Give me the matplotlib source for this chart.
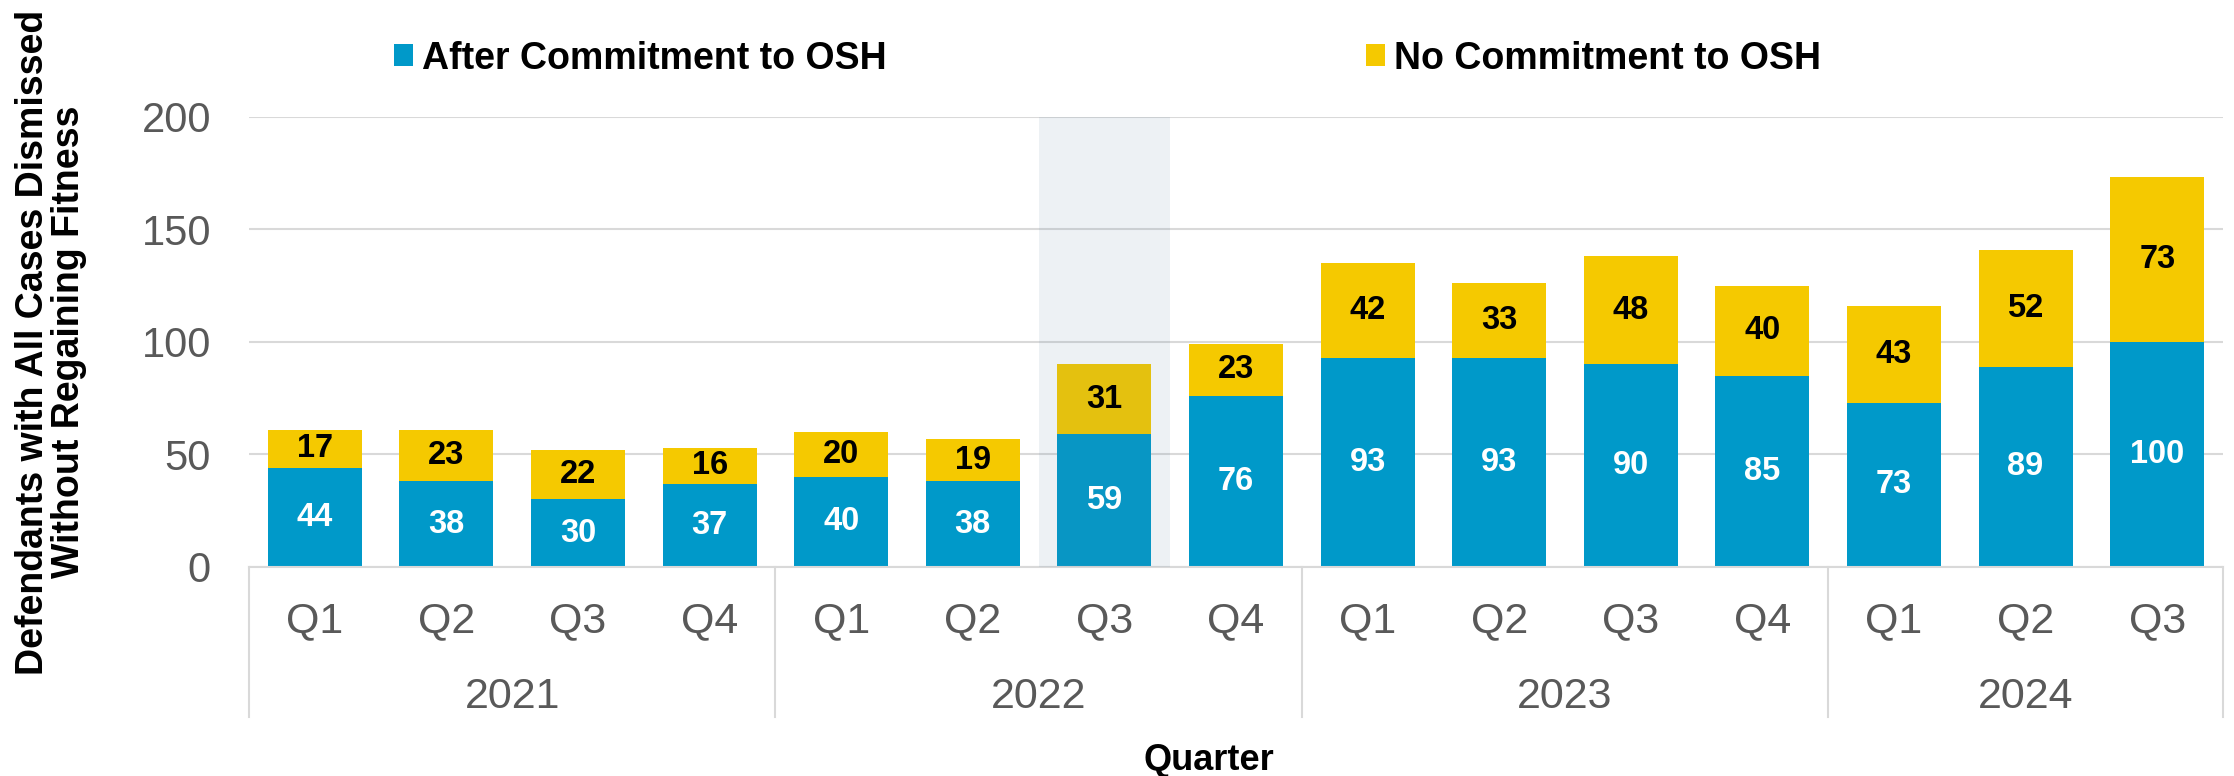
import matplotlib
matplotlib.use("Agg")
import matplotlib.pyplot as plt
import matplotlib.transforms as mtransforms
from matplotlib.patches import Rectangle
from matplotlib import font_manager

# ---- data ----
years = ["2021", "2022", "2023", "2024"]
quarters = ["Q1", "Q2", "Q3", "Q4", "Q1", "Q2", "Q3", "Q4",
            "Q1", "Q2", "Q3", "Q4", "Q1", "Q2", "Q3"]
quarters_per_year = [4, 4, 4, 3]
after_commitment = [44, 38, 30, 37, 40, 38, 59, 76, 93, 93, 90, 85, 73, 89, 100]
no_commitment = [17, 23, 22, 16, 20, 19, 31, 23, 42, 33, 48, 40, 43, 52, 73]
series_names = ["After Commitment to OSH", "No Commitment to OSH"]
highlight_index = 6

BLUE = "#0099C9"
YELLOW = "#F5C900"
GRID = "#D9D9D9"
TICK = "#595959"

names = {f.name for f in font_manager.fontManager.ttflist}
BASE = "Liberation Sans" if "Liberation Sans" in names else "DejaVu Sans"
plt.rcParams["font.family"] = [BASE, "DejaVu Sans"]
if "Liberation Sans Narrow" in names:
    LEG_FAMILY, LEG_SIZE = ["Liberation Sans Narrow", BASE], 31
else:
    LEG_FAMILY, LEG_SIZE = [BASE], 27

W, H = 2234, 776
fig = plt.figure(figsize=(W / 100, H / 100), dpi=100)
ax_left, ax_right, ax_bottom, ax_top = 249, 2223, 567, 116.7
ax = fig.add_axes([ax_left / W, 1 - ax_bottom / H,
                   (ax_right - ax_left) / W, (ax_bottom - ax_top) / H])

x = list(range(len(quarters)))
bw = 0.714
ax.bar(x, after_commitment, width=bw, color=BLUE, zorder=2)
ax.bar(x, no_commitment, width=bw, bottom=after_commitment, color=YELLOW, zorder=2)

# highlight band overlay
ax.axvspan(highlight_index - 0.5, highlight_index + 0.5, color=(85/255, 125/255, 155/255),
           alpha=0.1, zorder=3, lw=0)

# data labels
for i in x:
    a = after_commitment[i]
    n = no_commitment[i]
    ax.text(i, a / 2, str(a), ha="center", va="center", color="white",
            fontsize=23.5, fontweight="bold", zorder=5)
    ax.text(i, a + n / 2, str(n), ha="center", va="center", color="black",
            fontsize=23.5, fontweight="bold", zorder=5)

ax.set_xlim(-0.5, len(quarters) - 0.5)
ax.set_ylim(0, 200)
ax.set_yticks([0, 50, 100, 150, 200])
ax.yaxis.grid(True, color=GRID, lw=1.5, zorder=0)
ax.set_axisbelow(True)
for s in ["left", "right", "top"]:
    ax.spines[s].set_visible(False)
ax.spines["bottom"].set_color(GRID)
ax.spines["bottom"].set_linewidth(1.5)
ax.tick_params(axis="y", length=0, labelsize=30, labelcolor=TICK, pad=27.4)

ax.set_xticks(x)
ax.set_xticklabels(quarters)
ax.tick_params(axis="x", length=0, labelsize=31, labelcolor=TICK, pad=47.3)
for lbl in ax.get_xticklabels():
    lbl.set_verticalalignment("baseline")

# year labels and separators
trans = mtransforms.blended_transform_factory(ax.transData, fig.transFigure)
start = -0.5
bounds = [start]
for yr, n in zip(years, quarters_per_year):
    mid = start + n / 2
    ax.text(mid, 1 - 708 / H, yr, transform=trans, ha="center", va="baseline",
            fontsize=31, color=TICK)
    start += n
    bounds.append(start)
for b in bounds:
    ax.plot([b, b], [1 - 567 / H, 1 - 717 / H], transform=trans, color=GRID,
            lw=1.5, clip_on=False, zorder=1)

# axis titles
fig.text(1208.7 / W, 1 - 760 / H, "Quarter", ha="center", va="center",
         fontsize=26, fontweight="bold", color="black")
fig.text(51 / W, 1 - 342 / H,
         "Defendants with All Cases Dismissed\nWithout Regaining Fitness",
         rotation=90, ha="center", va="center", fontsize=27, fontweight="bold",
         linespacing=1.0, multialignment="center")

# legend (manual)
leg_items = [(394, 421.7, BLUE, series_names[0]), (1366, 1394, YELLOW, series_names[1])]
for sx, tx, col, name in leg_items:
    fig.patches.append(Rectangle((sx / W, 1 - 66 / H), 19 / W, 22 / H,
                                 transform=fig.transFigure, facecolor=col,
                                 edgecolor="none"))
    fig.text(tx / W, 1 - 55 / H, name, ha="left", va="center_baseline",
             fontsize=LEG_SIZE, fontweight="bold", family=LEG_FAMILY)

fig.savefig("out.png", dpi=100)
